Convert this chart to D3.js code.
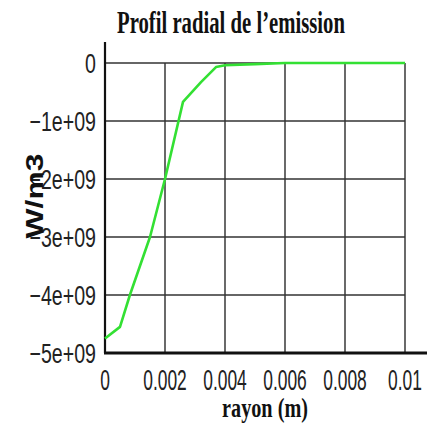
<!DOCTYPE html>
<html>
<head>
<meta charset="utf-8">
<script src="https://cdn.jsdelivr.net/npm/d3@7"></script>
<style>
  body { margin: 0; background: #fff; }
</style>
</head>
<body>
<div id="chart"></div>
<script>
// radial emission profile
var rayon = [0, 0.0005, 0.00083, 0.0015, 0.002, 0.0026, 0.0032, 0.0037, 0.004, 0.005, 0.006, 0.008, 0.01];
var emission = [-4.75e9, -4.55e9, -4.0e9, -3.0e9, -2.0e9, -0.67e9, -0.33e9, -0.07e9, -0.04e9, -0.02e9, 0, 0, 0];
var xTicks = [0, 0.002, 0.004, 0.006, 0.008, 0.01];
var xTickLabels = ["0", "0.002", "0.004", "0.006", "0.008", "0.01"];
var yTicks = [0, -1e9, -2e9, -3e9, -4e9, -5e9];
var yTickLabels = ["0", "\u22121e+09", "\u22122e+09", "\u22123e+09", "\u22124e+09", "\u22125e+09"];

(function() {
  var width = 432,
    height = 432;

  var svg = d3.select("#chart")
    .append("svg")
    .attr("width", width)
    .attr("height", height);

  var x = d3.scaleLinear().domain([0, 0.01]).range([105, 405]);
  var y = d3.scaleLinear().domain([-5e9, 0]).range([353, 63]);

  // narrow text: the original fonts are condensed, so squeeze horizontally
  // by a scale transform around the anchor point
  function squeeze(sel, k, px, py, rot) {
    sel.each(function(d, i) {
      var t = d3.select(this);
      var ax = typeof px === "function" ? px(d, i) : px;
      var ay = typeof py === "function" ? py(d, i) : py;
      t.attr("x", 0).attr("y", 0)
        .attr("transform", "translate(" + ax + "," + ay + ")" + (rot ? " rotate(" + rot + ")" : "") + " scale(" + k + ",1)");
    });
  }

  // grid
  svg.selectAll(".vgrid")
    .data(xTicks.slice(1))
    .enter().append("line")
    .attr("x1", function(d) { return x(d); })
    .attr("x2", function(d) { return x(d); })
    .attr("y1", y(0))
    .attr("y2", y(-5e9))
    .attr("stroke", "#444")
    .attr("stroke-width", 1.6);

  svg.selectAll(".hgrid")
    .data(yTicks.slice(0, -1))
    .enter().append("line")
    .attr("x1", x(0))
    .attr("x2", x(0.01))
    .attr("y1", function(d) { return y(d); })
    .attr("y2", function(d) { return y(d); })
    .attr("stroke", "#333")
    .attr("stroke-width", 1.6);

  // axes lines
  svg.append("line")
    .attr("x1", x(0)).attr("x2", x(0))
    .attr("y1", 42).attr("y2", y(-5e9))
    .attr("stroke", "#111").attr("stroke-width", 2.2);

  svg.append("line")
    .attr("x1", x(0) - 1).attr("x2", 427)
    .attr("y1", y(-5e9)).attr("y2", y(-5e9))
    .attr("stroke", "#111").attr("stroke-width", 3.2);

  // tick labels
  var yl = svg.selectAll(".ylab")
    .data(yTicks)
    .enter().append("text")
    .attr("text-anchor", "end")
    .attr("font-family", "Liberation Sans, Arial, sans-serif")
    .attr("font-size", 28)
    .attr("fill", "#222")
    .text(function(d, i) { return yTickLabels[i]; });
  squeeze(yl, 0.7, 96, function(d) { return y(d) + 10; });

  var xl = svg.selectAll(".xlab")
    .data(xTicks)
    .enter().append("text")
    .attr("text-anchor", "middle")
    .attr("font-family", "Liberation Sans, Arial, sans-serif")
    .attr("font-size", 29)
    .attr("fill", "#222")
    .text(function(d, i) { return xTickLabels[i]; });
  squeeze(xl, 0.6, function(d) { return x(d); }, 390);

  // curve
  var line = d3.line()
    .x(function(d, i) { return x(rayon[i]); })
    .y(function(d) { return y(d); });

  svg.append("path")
    .datum(emission)
    .attr("d", line)
    .attr("fill", "none")
    .attr("stroke", "#33e033")
    .attr("stroke-width", 2.6)
    .attr("stroke-linejoin", "round");

  // title and labels
  var title = svg.append("text")
    .attr("text-anchor", "middle")
    .attr("font-family", "Liberation Serif, Times New Roman, serif")
    .attr("font-size", 31)
    .attr("font-weight", "bold")
    .attr("fill", "#111")
    .text("Profil radial de l\u2019emission");
  var tw = title.node().getComputedTextLength();
  squeeze(title, 228 / tw, 231, 33);

  var xlab = svg.append("text")
    .attr("text-anchor", "middle")
    .attr("font-family", "Liberation Serif, Times New Roman, serif")
    .attr("font-size", 28)
    .attr("font-weight", "bold")
    .attr("fill", "#111")
    .text("rayon (m)");
  squeeze(xlab, 86 / xlab.node().getComputedTextLength(), 265, 417);

  var ylab = svg.append("text")
    .attr("text-anchor", "middle")
    .attr("font-family", "Liberation Sans, Arial, sans-serif")
    .attr("font-size", 24)
    .attr("font-weight", "bold")
    .attr("fill", "#111")
    .text("W/m3");
  squeeze(ylab, 85 / ylab.node().getComputedTextLength(), 43, 196, -90);
})();
</script>
</body>
</html>
